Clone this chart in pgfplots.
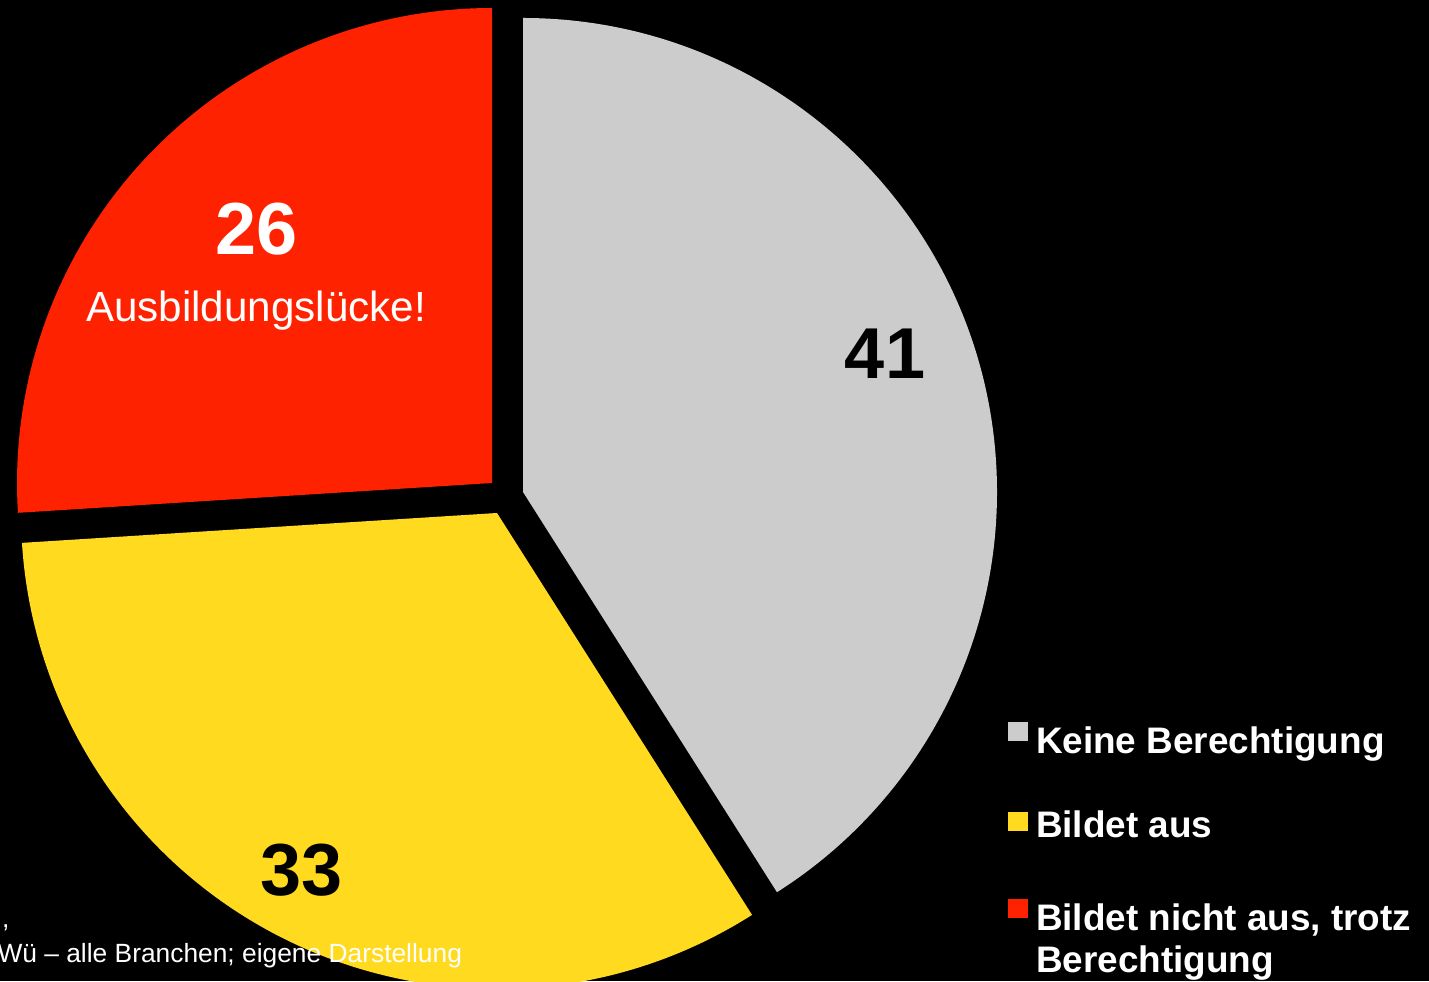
\documentclass[border=0pt]{standalone}
\usepackage{pgfplots}
\pgfplotsset{compat=1.18}
\usepackage{fontspec}
\setmainfont{Liberation Sans}
\definecolor{cgray}{HTML}{CCCCCC}
\definecolor{cyellow}{HTML}{FFDA1F}
\definecolor{cred}{HTML}{FF2200}
% start angle, value (percent), apex x, apex y, radius (cm), colour
\newcommand{\pieslice}[6]{%
  \fill[#6] (axis cs:#3,#4) -- ++({#1}:#5cm) arc[start angle={#1}, delta angle={-3.6*#2}, radius=#5cm] -- cycle;}
\tikzset{lbl/.style={inner sep=0pt, outer sep=0pt}}
\begin{document}
\begin{tikzpicture}
\fill[black] (0,0) rectangle (14.29cm,9.81cm);
\begin{axis}[
  at={(0,0)}, anchor=south west,
  scale only axis, width=14.29cm, height=9.81cm,
  xmin=0, xmax=1429, ymin=0, ymax=981,
  hide axis, clip=true,
]
% Keine Berechtigung 41, Bildet aus 33, Bildet nicht aus trotz Berechtigung 26
\pieslice{90}{41}{523}{489}{4.74}{cgray}
\pieslice{90-3.6*41}{33}{497}{468}{4.76}{cyellow}
\pieslice{90-3.6*(41+33)}{26}{492}{498}{4.75}{cred}

\node[lbl, anchor=base, text=black, font=\fontsize{20.5}{24}\selectfont\bfseries] at (axis cs:885,602) {41};
\node[lbl, anchor=base, text=white, font=\fontsize{21}{25}\selectfont\bfseries] at (axis cs:257,726) {26};
\node[lbl, anchor=base, text=white, font=\fontsize{12}{14}\selectfont] at (axis cs:256,659) {Ausbildungslücke!};
\node[lbl, anchor=base, text=black, font=\fontsize{21}{25}\selectfont\bfseries] at (axis cs:302,86) {33};

% legend
\fill[cgray] (axis cs:1008,240) rectangle (axis cs:1028,259);
\fill[cyellow] (axis cs:1008,150) rectangle (axis cs:1028,169);
\fill[cred] (axis cs:1008,63) rectangle (axis cs:1028,82);
\node[lbl, anchor=base west, text=white, font=\fontsize{10.5}{12}\selectfont\bfseries] at (axis cs:1036,228) {Keine Berechtigung};
\node[lbl, anchor=base west, text=white, font=\fontsize{10.5}{12}\selectfont\bfseries] at (axis cs:1036,144) {Bildet aus};
\node[lbl, anchor=base west, text=white, font=\fontsize{10.5}{12}\selectfont\bfseries] at (axis cs:1036,51) {Bildet nicht aus, trotz};
\node[lbl, anchor=base west, text=white, font=\fontsize{10.5}{12}\selectfont\bfseries] at (axis cs:1036,9) {Berechtigung};

% source note
\node[lbl, anchor=base west, text=white, font=\fontsize{7.5}{9}\selectfont] at (axis cs:2,54) {,};
\node[lbl, anchor=base east, text=white, font=\fontsize{7.5}{9}\selectfont] at (axis cs:462,19) {Wü – alle Branchen; eigene Darstellung};
\end{axis}
\pgfresetboundingbox
\useasboundingbox (0,0) rectangle (14.29cm,9.81cm);
\end{tikzpicture}
\end{document}
